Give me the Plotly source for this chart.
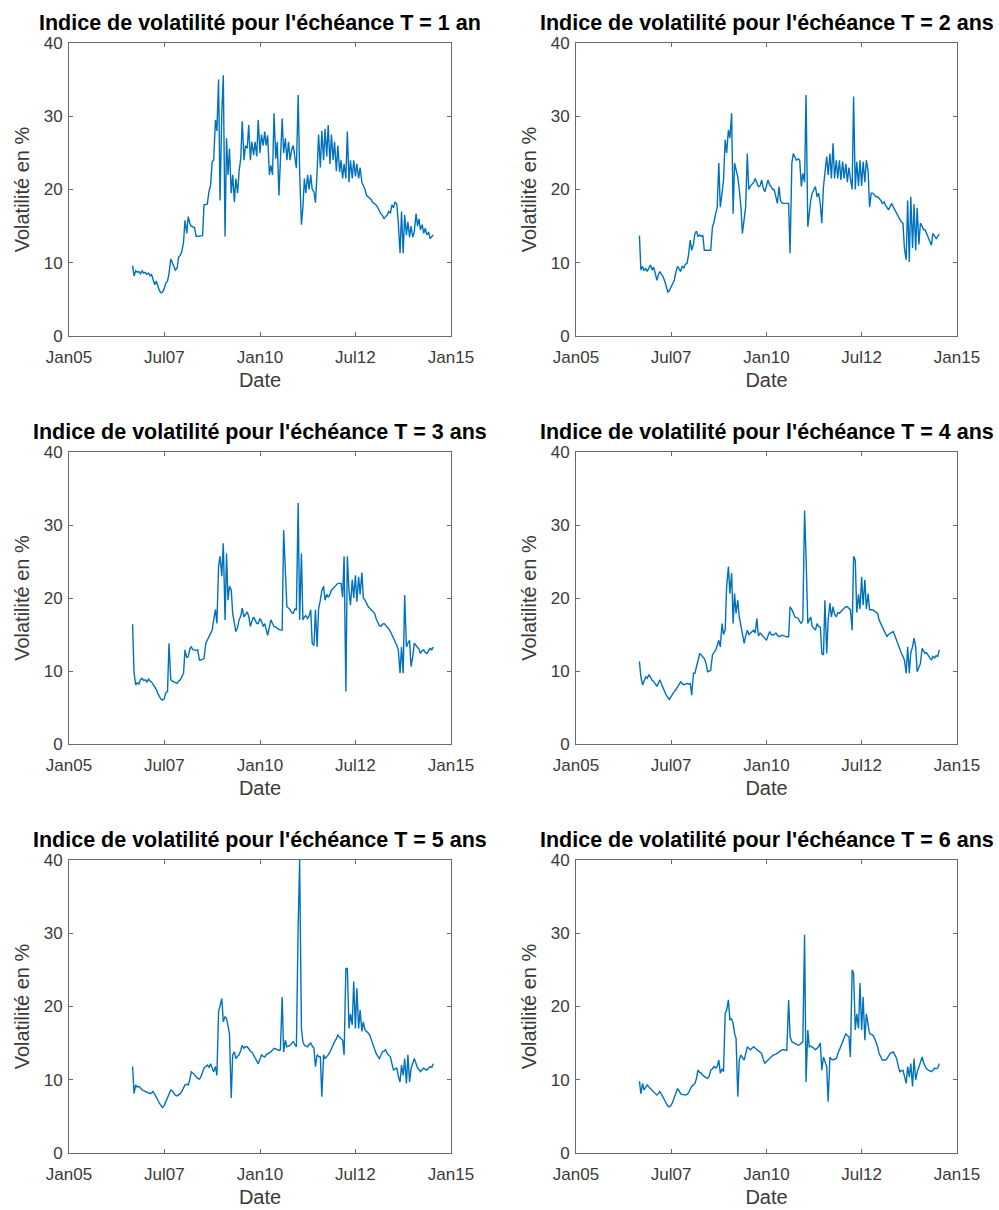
import pandas as pd
import plotly.graph_objects as go

# Semi-monthly observation dates (1st and 15th of each month), Sep 2006 -> Jul 2014
dates = pd.date_range("2006-09-01", periods=190, freq="SMS")

vol_T1 = [
    9.6, 8.2, 8.9, 8.7, 8.8, 8.5, 8.9, 8.6, 8.7, 8.4,
    8.6, 8.2, 8.4, 7.6, 7.0, 7.5, 6.8, 6.2, 5.9, 6.0,
    6.5, 7.2, 7.5, 8.5, 10.5, 10.1, 9.5, 9.0, 9.3, 10.8,
    11.0, 11.5, 12.8, 15.8, 14.0, 16.3, 15.4, 15.0, 14.9, 14.8,
    13.6, 13.6, 13.6, 13.6, 13.7, 17.9, 17.9, 18.0, 19.8, 20.5,
    23.8, 24.0, 29.5, 28.0, 35.0, 18.5, 30.6, 35.6, 13.6, 27.0,
    22.0, 25.6, 19.5, 22.0, 18.3, 21.5, 19.5, 22.5, 24.2, 29.3,
    24.0, 26.0, 25.6, 28.8, 24.0, 26.5, 24.7, 26.5, 24.5, 29.5,
    25.0, 27.5, 26.0, 27.9, 26.0, 27.4, 22.0, 23.3, 22.0, 30.4,
    24.2, 26.5, 19.2, 23.8, 29.7, 25.0, 27.0, 24.0, 26.5, 24.0,
    25.5, 26.0, 24.5, 22.9, 32.9, 22.4, 15.2, 17.5, 21.5, 19.5,
    22.0, 20.0, 22.0, 20.0, 19.7, 18.2, 22.4, 27.5, 23.0, 28.0,
    24.0, 28.3, 24.5, 28.8, 23.5, 27.5, 24.0, 26.5, 22.5, 26.0,
    22.4, 24.0, 21.5, 23.5, 21.5, 27.9, 21.0, 24.0, 21.5, 24.0,
    21.8, 23.5, 21.5, 23.0, 21.0, 20.5, 20.0, 19.2, 19.0, 18.8,
    18.6, 18.2, 18.0, 17.9, 17.5, 17.0, 16.7, 16.5, 16.0, 16.3,
    16.5, 17.0, 16.8, 17.9, 17.5, 18.3, 18.0, 15.5, 11.3, 17.0,
    11.3, 16.5, 13.8, 15.6, 13.5, 15.0, 13.5, 14.2, 16.7, 15.0,
    16.0, 14.5, 15.2, 14.0, 14.7, 13.8, 14.2, 13.3, 13.6, 13.8,
]

vol_T2 = [
    13.7, 9.0, 9.5, 8.9, 9.2, 8.8, 9.3, 9.7, 9.0, 9.4,
    8.5, 7.6, 8.3, 8.8, 8.4, 8.1, 7.5, 6.7, 6.0, 6.2,
    6.7, 7.2, 7.6, 8.6, 9.5, 9.2, 8.8, 9.5, 9.3, 9.8,
    9.9, 11.0, 13.1, 11.7, 12.5, 14.0, 14.3, 13.6, 13.8, 13.6,
    13.7, 11.7, 11.7, 11.8, 11.7, 11.7, 14.9, 15.5, 16.7, 17.5,
    23.6, 17.6, 19.5, 21.3, 26.8, 25.0, 28.1, 27.0, 30.4, 16.7,
    23.6, 22.7, 21.7, 20.0, 17.6, 14.0, 16.5, 17.6, 24.9, 20.0,
    20.5, 20.8, 21.0, 21.5, 20.8, 20.4, 20.5, 21.3, 20.2, 19.7,
    20.5, 21.3, 20.6, 20.4, 20.0, 20.0, 19.0, 18.1, 20.4, 18.5,
    18.1, 18.1, 18.1, 18.1, 18.1, 11.3, 23.6, 24.9, 24.5, 24.0,
    24.2, 24.0, 20.4, 22.2, 21.0, 32.9, 14.9, 17.0, 18.5, 19.5,
    20.0, 20.4, 19.0, 19.5, 18.0, 15.4, 20.4, 22.0, 24.5, 22.0,
    24.9, 21.5, 26.3, 21.5, 24.0, 21.5, 24.0, 21.3, 23.8, 21.5,
    23.5, 21.0, 23.0, 21.5, 20.0, 32.7, 20.0, 23.8, 20.5, 24.0,
    20.5, 23.8, 21.0, 24.0, 22.5, 17.6, 19.5, 19.5, 19.2, 19.0,
    19.0, 18.8, 18.5, 18.1, 18.3, 17.8, 17.6, 17.2, 17.6, 18.1,
    17.6, 17.2, 16.8, 16.3, 16.0, 15.6, 15.4, 12.0, 10.4, 18.5,
    10.1, 19.0, 12.0, 18.0, 11.7, 17.5, 12.5, 15.4, 15.0, 14.5,
    14.5, 14.0, 13.6, 13.0, 12.4, 14.0, 13.5, 13.3, 13.6, 13.9,
]

vol_T3 = [
    16.4, 9.7, 8.1, 8.4, 8.2, 8.8, 9.0, 8.7, 8.8, 8.5,
    8.9, 8.6, 8.5, 8.2, 7.9, 7.5, 6.9, 6.5, 6.1, 6.0,
    6.2, 7.0, 7.2, 13.8, 8.8, 8.6, 8.5, 8.4, 8.3, 8.6,
    8.8, 9.2, 9.7, 12.9, 11.8, 12.0, 13.0, 13.3, 12.9, 12.9,
    12.8, 12.9, 11.5, 11.5, 11.6, 11.7, 13.8, 14.2, 14.7, 15.0,
    15.6, 17.0, 18.4, 16.5, 24.3, 25.7, 23.0, 27.5, 17.0, 26.1,
    19.7, 21.6, 21.1, 17.9, 16.5, 15.4, 16.0, 17.0, 17.5, 18.6,
    17.4, 17.8, 18.1, 17.5, 16.1, 16.8, 17.4, 17.0, 16.5, 16.5,
    17.2, 16.8, 16.1, 16.5, 15.5, 14.9, 16.0, 17.0, 16.5, 16.1,
    16.0, 15.8, 15.7, 15.6, 15.6, 29.3, 22.1, 18.8, 18.6, 18.4,
    18.0, 17.9, 18.5, 18.4, 33.0, 17.0, 26.1, 17.0, 17.4, 17.6,
    17.2, 17.5, 18.4, 13.8, 13.5, 18.4, 13.3, 18.5, 19.7, 21.0,
    21.6, 19.7, 20.5, 20.1, 20.5, 21.1, 21.3, 21.6, 21.8, 22.0,
    22.0, 22.0, 20.1, 25.7, 7.2, 25.7, 21.0, 19.0, 22.5, 20.0,
    23.1, 19.5, 22.9, 20.5, 23.5, 20.0, 19.7, 19.2, 18.8, 18.6,
    18.4, 18.2, 17.9, 17.2, 16.5, 16.2, 16.1, 16.4, 16.5, 16.3,
    16.1, 15.8, 15.4, 15.0, 14.6, 14.2, 13.5, 12.9, 9.7, 13.3,
    9.7, 20.4, 13.3, 13.8, 14.2, 10.6, 12.0, 13.8, 13.5, 13.3,
    13.0, 12.4, 12.8, 12.9, 12.5, 12.4, 12.8, 13.1, 12.9, 13.3,
]

vol_T4 = [
    11.3, 9.2, 8.1, 8.6, 9.2, 9.0, 9.5, 9.2, 8.7, 8.6,
    8.2, 7.9, 8.3, 8.8, 8.2, 7.6, 7.2, 6.7, 6.4, 6.1,
    6.5, 6.9, 7.2, 7.4, 7.8, 8.3, 8.5, 8.3, 8.1, 8.2,
    8.3, 8.2, 8.3, 6.7, 9.7, 9.7, 10.5, 11.5, 12.4, 12.2,
    12.0, 11.7, 11.0, 9.9, 10.0, 10.1, 12.2, 12.5, 12.9, 13.5,
    14.2, 13.3, 16.5, 15.0, 15.6, 21.6, 24.3, 20.6, 23.4, 16.5,
    20.6, 17.9, 19.7, 17.4, 16.0, 14.7, 13.8, 14.8, 15.6, 15.0,
    15.2, 15.4, 15.6, 15.2, 17.2, 14.8, 15.2, 15.0, 14.7, 14.5,
    14.2, 14.8, 15.4, 15.0, 14.9, 15.0, 15.2, 14.9, 14.7, 14.8,
    14.9, 14.8, 14.7, 14.7, 14.7, 18.8, 18.4, 17.8, 17.4, 17.3,
    17.2, 16.8, 16.5, 17.0, 32.0, 25.7, 16.5, 17.0, 17.4, 16.1,
    15.8, 15.6, 16.5, 16.1, 16.0, 12.4, 12.2, 19.7, 12.4, 17.0,
    19.3, 17.4, 18.8, 17.8, 17.4, 18.0, 17.9, 18.2, 18.4, 18.6,
    18.8, 18.8, 18.6, 18.4, 15.6, 25.7, 25.2, 18.0, 20.5, 18.5,
    22.9, 19.0, 22.5, 18.5, 20.6, 18.4, 18.4, 18.4, 18.2, 18.0,
    17.9, 17.0, 16.5, 16.0, 15.6, 15.0, 14.7, 15.0, 15.2, 15.3,
    15.4, 14.8, 14.2, 13.5, 12.9, 12.5, 12.0, 11.5, 9.7, 13.3,
    9.7, 12.5, 13.3, 14.5, 13.3, 9.9, 10.5, 11.0, 13.1, 12.8,
    12.4, 12.5, 12.2, 11.8, 11.5, 12.0, 11.8, 12.1, 12.0, 12.9,
]

vol_T5 = [
    11.8, 8.1, 9.3, 9.0, 9.1, 8.8, 8.6, 8.5, 8.4, 8.3,
    8.2, 8.1, 8.2, 8.4, 8.0, 7.5, 7.2, 6.8, 6.4, 6.2,
    6.5, 7.0, 7.5, 8.0, 8.6, 8.5, 8.1, 7.9, 7.8, 7.9,
    8.1, 8.4, 9.0, 9.3, 9.4, 9.3, 10.0, 11.1, 10.9, 10.6,
    10.4, 10.2, 10.1, 10.4, 11.0, 11.6, 11.8, 12.0, 11.7, 12.2,
    11.6, 11.1, 11.8, 10.6, 19.3, 20.2, 21.1, 17.9, 18.6, 18.4,
    17.0, 16.3, 7.5, 13.4, 13.8, 12.9, 13.2, 13.4, 14.0, 14.7,
    14.3, 14.5, 14.5, 14.2, 13.9, 13.8, 13.3, 12.9, 12.5, 12.2,
    12.8, 13.4, 13.2, 13.1, 13.4, 13.6, 13.7, 13.8, 14.0, 14.3,
    14.2, 14.1, 14.0, 14.1, 21.3, 13.8, 15.4, 14.5, 14.6, 14.7,
    15.0, 15.2, 14.8, 14.5, 31.1, 40.0, 17.0, 15.2, 14.7, 14.6,
    14.5, 14.8, 15.0, 14.6, 14.3, 11.8, 13.4, 13.2, 13.1, 7.7,
    13.4, 12.9, 13.1, 13.4, 13.8, 14.3, 14.8, 15.2, 15.6, 16.1,
    15.8, 15.6, 15.4, 13.4, 25.2, 25.2, 17.0, 19.0, 17.5, 23.4,
    17.0, 22.5, 17.0, 19.5, 16.6, 17.9, 16.8, 16.6, 16.4, 16.1,
    15.4, 14.7, 14.2, 13.6, 13.2, 12.9, 13.3, 13.8, 13.9, 14.1,
    13.6, 13.4, 13.1, 12.2, 11.3, 11.5, 11.6, 10.5, 9.7, 12.0,
    10.6, 12.9, 9.5, 13.4, 9.7, 11.5, 12.5, 12.9, 12.2, 11.6,
    11.4, 11.1, 11.4, 11.6, 11.4, 11.3, 11.6, 11.8, 11.7, 12.2,
]

vol_T6 = [
    9.8, 8.1, 9.5, 8.6, 9.0, 9.3, 9.0, 8.8, 8.6, 8.4,
    8.2, 7.9, 8.1, 8.4, 8.0, 7.5, 7.2, 6.8, 6.4, 6.3,
    6.5, 6.9, 7.5, 8.0, 8.8, 8.5, 8.1, 8.0, 7.9, 7.9,
    8.0, 8.2, 8.7, 9.1, 9.3, 9.5, 10.2, 11.3, 11.0, 10.9,
    10.6, 10.4, 10.3, 10.2, 10.5, 11.3, 11.5, 11.8, 11.6, 11.8,
    12.7, 10.9, 11.5, 11.1, 19.1, 19.5, 20.9, 18.2, 18.3, 17.7,
    16.3, 15.7, 7.7, 12.7, 13.4, 13.0, 12.7, 13.5, 14.5, 14.3,
    14.1, 14.3, 14.5, 14.3, 14.1, 14.0, 13.8, 13.6, 12.8, 12.2,
    12.5, 12.7, 12.9, 13.1, 13.3, 13.4, 13.5, 13.6, 13.8, 14.0,
    14.1, 14.1, 14.1, 14.0, 20.9, 15.9, 15.2, 15.1, 15.0, 14.9,
    14.7, 14.8, 15.0, 15.2, 29.8, 9.7, 16.8, 14.5, 14.6, 14.5,
    14.3, 14.1, 14.3, 14.5, 15.0, 11.3, 13.1, 12.5, 11.8, 7.0,
    13.1, 12.8, 12.7, 12.8, 12.9, 13.5, 14.1, 14.6, 15.2, 15.8,
    16.3, 16.0, 15.9, 13.1, 25.0, 24.5, 16.8, 19.0, 17.0, 23.2,
    16.8, 21.3, 15.4, 19.0, 17.7, 16.3, 16.2, 16.1, 15.7, 15.2,
    14.5, 13.6, 13.2, 12.7, 12.7, 12.7, 12.9, 13.3, 13.6, 13.7,
    13.8, 13.4, 12.9, 12.0, 11.1, 11.2, 11.3, 10.5, 9.5, 11.8,
    10.4, 12.2, 9.1, 12.9, 10.0, 11.0, 11.8, 12.5, 13.1, 12.3,
    11.8, 11.5, 11.3, 11.2, 11.1, 11.3, 11.6, 11.5, 11.6, 12.2,
]

series = [vol_T1, vol_T2, vol_T3, vol_T4, vol_T5, vol_T6]
titles = [
    "Indice de volatilité pour l'échéance T = 1 an",
    "Indice de volatilité pour l'échéance T = 2 ans",
    "Indice de volatilité pour l'échéance T = 3 ans",
    "Indice de volatilité pour l'échéance T = 4 ans",
    "Indice de volatilité pour l'échéance T = 5 ans",
    "Indice de volatilité pour l'échéance T = 6 ans",
]
x_tick_vals = ["2005-01-01", "2007-07-01", "2010-01-01", "2012-07-01", "2015-01-01"]
x_tick_text = ["Jan05", "Jul07", "Jan10", "Jul12", "Jan15"]
y_tick_vals = [0, 10, 20, 30, 40]

W, H = 999, 1210
col_px = [(69, 451), (576, 957)]
row_px = [(43, 336), (452, 744), (860, 1153)]

FONT = "Liberation Sans, Arial, Helvetica, sans-serif"
AXIS_COLOR = "#6a6a6a"
TEXT_COLOR = "#3a3a3a"
LINE_COLOR = "#0072BD"

fig = go.Figure()
layout = dict(
    width=W, height=H,
    margin=dict(l=0, r=0, t=0, b=0),
    paper_bgcolor="white", plot_bgcolor="white",
    showlegend=False,
    font=dict(family=FONT, color=TEXT_COLOR),
    annotations=[],
)

for k, (vals, title) in enumerate(zip(series, titles)):
    r, c = divmod(k, 2)
    x0, x1 = col_px[c]
    y0, y1 = row_px[r]
    xa = "x" if k == 0 else f"x{k+1}"
    ya = "y" if k == 0 else f"y{k+1}"
    fig.add_trace(go.Scatter(
        x=dates, y=vals, mode="lines",
        line=dict(color=LINE_COLOR, width=1.4),
        xaxis=xa, yaxis=ya, hoverinfo="skip",
    ))
    xkey = "xaxis" if k == 0 else f"xaxis{k+1}"
    ykey = "yaxis" if k == 0 else f"yaxis{k+1}"
    layout[xkey] = dict(
        domain=[x0 / W, x1 / W], anchor=ya, type="date",
        range=["2005-01-01", "2015-01-01"],
        tickvals=x_tick_vals, ticktext=x_tick_text,
        ticks="inside", ticklen=4, tickcolor=AXIS_COLOR, tickwidth=1,
        showline=True, linecolor=AXIS_COLOR, linewidth=1, mirror="ticks",
        showgrid=False, zeroline=False,
        tickfont=dict(family=FONT, size=17, color=TEXT_COLOR),
        ticklabelstandoff=6,
        title=dict(text="Date", font=dict(family=FONT, size=20, color=TEXT_COLOR), standoff=6),
        automargin=False,
    )
    layout[ykey] = dict(
        domain=[1 - y1 / H, 1 - y0 / H], anchor=xa,
        range=[0, 40], tickvals=y_tick_vals,
        ticks="inside", ticklen=4, tickcolor=AXIS_COLOR, tickwidth=1,
        showline=True, linecolor=AXIS_COLOR, linewidth=1, mirror="ticks",
        showgrid=False, zeroline=False,
        tickfont=dict(family=FONT, size=17, color=TEXT_COLOR),
        ticklabelstandoff=2,
        title=dict(text="Volatilité en %", font=dict(family=FONT, size=20, color=TEXT_COLOR), standoff=8),
        automargin=False,
    )
    layout["annotations"].append(dict(
        text=f"<b>{title}</b>", xref="paper", yref="paper",
        x=(x0 + x1) / 2 / W, y=1 - (y0 - 20) / H,
        xanchor="center", yanchor="middle", showarrow=False,
        font=dict(family=FONT, size=21.5, color="black"),
    ))

fig.update_layout(**layout)
fig.write_html(
    "out.html",
    config={"displayModeBar": False, "staticPlot": True},
    post_script="document.body.style.margin='0';document.body.style.padding='0';",
)
